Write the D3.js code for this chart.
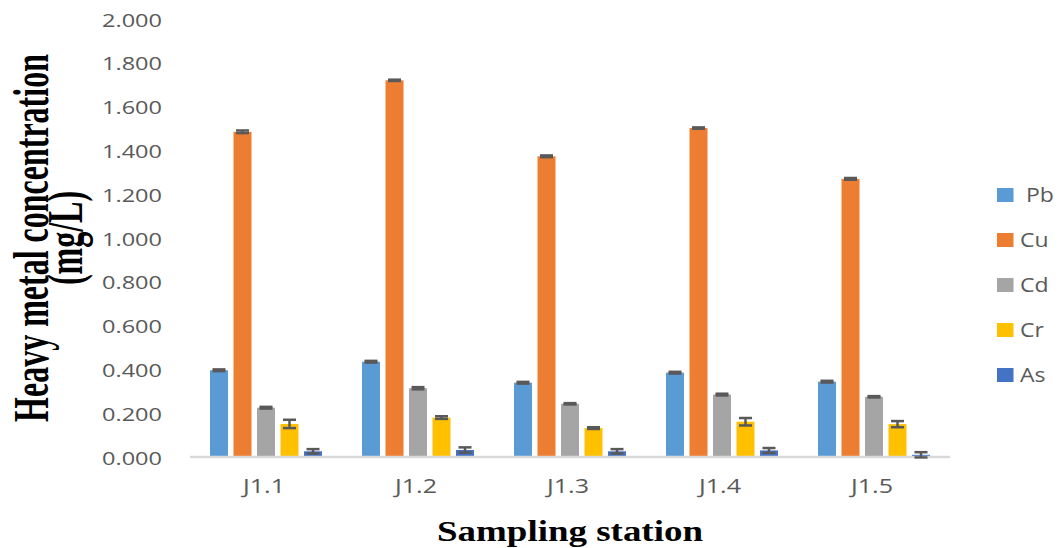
<!DOCTYPE html>
<html>
<head>
<meta charset="utf-8">
<script src="https://cdn.jsdelivr.net/npm/d3@7"></script>
<style>
  html, body { margin: 0; padding: 0; background: #ffffff; }
  svg { display: block; }
</style>
</head>
<body>
<svg id="chart" width="1060" height="548"></svg>
<script>
// ---- Data ----
const stations = ["J1.1", "J1.2", "J1.3", "J1.4", "J1.5"];
const metals = ["Pb", "Cu", "Cd", "Cr", "As"];
const legendLabels = [" Pb", "Cu", "Cd", "Cr", "As"];
const colors = ["#5B9BD5", "#ED7D31", "#A5A5A5", "#FFC000", "#4472C4"];
const pbValues = [0.396, 0.435, 0.339, 0.385, 0.344];
const cuValues = [1.485, 1.720, 1.373, 1.502, 1.270];
const cdValues = [0.225, 0.314, 0.243, 0.285, 0.275];
const crValues = [0.151, 0.180, 0.132, 0.161, 0.150];
const asValues = [0.026, 0.032, 0.026, 0.030, 0.010];
const pbErrors = [0.004, 0.004, 0.004, 0.004, 0.004];
const cuErrors = [0.006, 0.003, 0.004, 0.003, 0.004];
const cdErrors = [0.004, 0.005, 0.003, 0.004, 0.003];
const crErrors = [0.019, 0.006, 0.004, 0.017, 0.014];
const asErrors = [0.010, 0.012, 0.010, 0.011, 0.012];
const yTicks = [0, 0.2, 0.4, 0.6, 0.8, 1.0, 1.2, 1.4, 1.6, 1.8, 2.0];
const yTitle1 = "Heavy metal concentration";
const yTitle2 = "(mg/L)";
const xTitle = "Sampling station";

const seriesValues = [pbValues, cuValues, cdValues, crValues, asValues];
const seriesErrors = [pbErrors, cuErrors, cdErrors, crErrors, asErrors];

const rows = [];
stations.forEach((s, i) => {
  metals.forEach((m, j) => {
    rows.push({ station: s, metal: m, value: seriesValues[j][i], err: seriesErrors[j][i], color: colors[j] });
  });
});

// ---- Layout ----
const svg = d3.select("#chart");
const plot = { left: 190, right: 950, top: 19, bottom: 457 };
const tickColor = "#595959";
const sansFont = "'Open Sans', sans-serif";
const serifFont = "'Liberation Serif', 'Times New Roman', serif";

const x0 = d3.scaleBand().domain(stations).range([plot.left, plot.right]).padding(0);
const x1 = d3.scaleBand().domain(metals).range([-56, 56]).paddingInner(0.234).paddingOuter(0);
const y = d3.scaleLinear().domain([0, 2]).range([plot.bottom, plot.top]);

function fitWidth(textSel, target) {
  const w = textSel.node().getComputedTextLength();
  return target / w;
}

// ---- Bars ----
const groupCenter = s => x0(s) + x0.bandwidth() / 2;

svg.append("g").selectAll("rect")
  .data(rows)
  .join("rect")
  .attr("x", d => groupCenter(d.station) + x1(d.metal))
  .attr("y", d => y(d.value))
  .attr("width", x1.bandwidth())
  .attr("height", d => y(0) - y(d.value))
  .attr("fill", d => d.color);

// ---- Baseline ----
svg.append("line")
  .attr("x1", plot.left).attr("x2", plot.right)
  .attr("y1", y(0)).attr("y2", y(0))
  .attr("stroke", "#D9D9D9").attr("stroke-width", 2.5);

// ---- Error bars ----
const eg = svg.append("g").attr("stroke", "#595959").attr("stroke-width", 2.5).attr("fill", "none");
const capHalf = 6.5;
rows.forEach(d => {
  const cx = groupCenter(d.station) + x1(d.metal) + x1.bandwidth() / 2;
  const yHi = y(d.value + d.err);
  const yLo = y(d.value - d.err);
  eg.append("line").attr("x1", cx).attr("x2", cx).attr("y1", yHi).attr("y2", yLo);
  eg.append("line").attr("x1", cx - capHalf).attr("x2", cx + capHalf).attr("y1", yHi).attr("y2", yHi);
  eg.append("line").attr("x1", cx - capHalf).attr("x2", cx + capHalf).attr("y1", yLo).attr("y2", yLo);
});

// ---- Y tick labels ----
const yAxis = d3.axisLeft(y).tickValues(yTicks).tickFormat(d3.format(".3f")).tickSize(0).tickPadding(0);
const yAxisG = svg.append("g").attr("transform", `translate(${plot.left},0)`).call(yAxis);
yAxisG.select(".domain").remove();
yAxisG.selectAll(".tick text").each(function() {
  const t = d3.select(this);
  t.attr("font-family", sansFont).attr("font-size", 19).attr("fill", tickColor)
   .attr("x", 0).attr("dy", null).attr("y", 7).attr("text-anchor", "end");
  const s = fitWidth(t, 60);
  t.attr("transform", `translate(${162 - plot.left},0) scale(${s},1)`);
});

// ---- X tick labels ----
const xAxis = d3.axisBottom(x0).tickSize(0).tickPadding(0);
const xAxisG = svg.append("g").attr("transform", `translate(0,${plot.bottom})`).call(xAxis);
xAxisG.select(".domain").remove();
xAxisG.selectAll(".tick text").each(function() {
  const t = d3.select(this);
  t.attr("font-family", sansFont).attr("font-size", 20).attr("fill", tickColor)
   .attr("dy", null).attr("y", 0).attr("x", 0).attr("text-anchor", "middle");
  const s = fitWidth(t, 42);
  t.attr("transform", `translate(-2,36) scale(${s},1)`);
});

// ---- Axis titles ----
const xt = svg.append("text")
  .attr("font-family", serifFont).attr("font-weight", "bold").attr("font-size", 29)
  .attr("fill", "#000").attr("text-anchor", "middle").text(xTitle);
const xs = fitWidth(xt, 266);
xt.attr("transform", `translate(${(plot.left + plot.right) / 2},541) scale(${xs},1)`);

const yc = (plot.top + plot.bottom) / 2;
const yt1 = svg.append("text")
  .attr("font-family", serifFont).attr("font-weight", "bold").attr("font-size", 32)
  .attr("fill", "#000").attr("text-anchor", "middle")
  .text(yTitle1);
const ys1 = fitWidth(yt1, 368);
yt1.attr("transform", `translate(48,${yc}) scale(1.55,1) rotate(-90) scale(${ys1},1)`);
svg.append("text")
  .attr("font-family", serifFont).attr("font-weight", "bold").attr("font-size", 32)
  .attr("fill", "#000").attr("text-anchor", "middle")
  .attr("transform", `translate(82,${yc}) scale(1.55,1) rotate(-90) scale(${ys1},1)`)
  .text(yTitle2);

// ---- Legend ----
const legendY = d3.scalePoint().domain(metals).range([195, 375]);
const lg = svg.append("g");
metals.forEach((m, j) => {
  const cy = legendY(m);
  lg.append("rect").attr("x", 997).attr("y", cy - 7).attr("width", 16.5).attr("height", 14).attr("fill", colors[j]);
  const t = lg.append("text")
    .attr("font-family", sansFont).attr("font-size", 20).attr("fill", tickColor)
    .attr("x", 0).attr("y", 0).attr("xml:space", "preserve").style("white-space", "pre")
    .text(legendLabels[j]);
  t.attr("transform", `translate(1020,${cy + 7}) scale(1.15,1)`);
});
</script>
</body>
</html>
